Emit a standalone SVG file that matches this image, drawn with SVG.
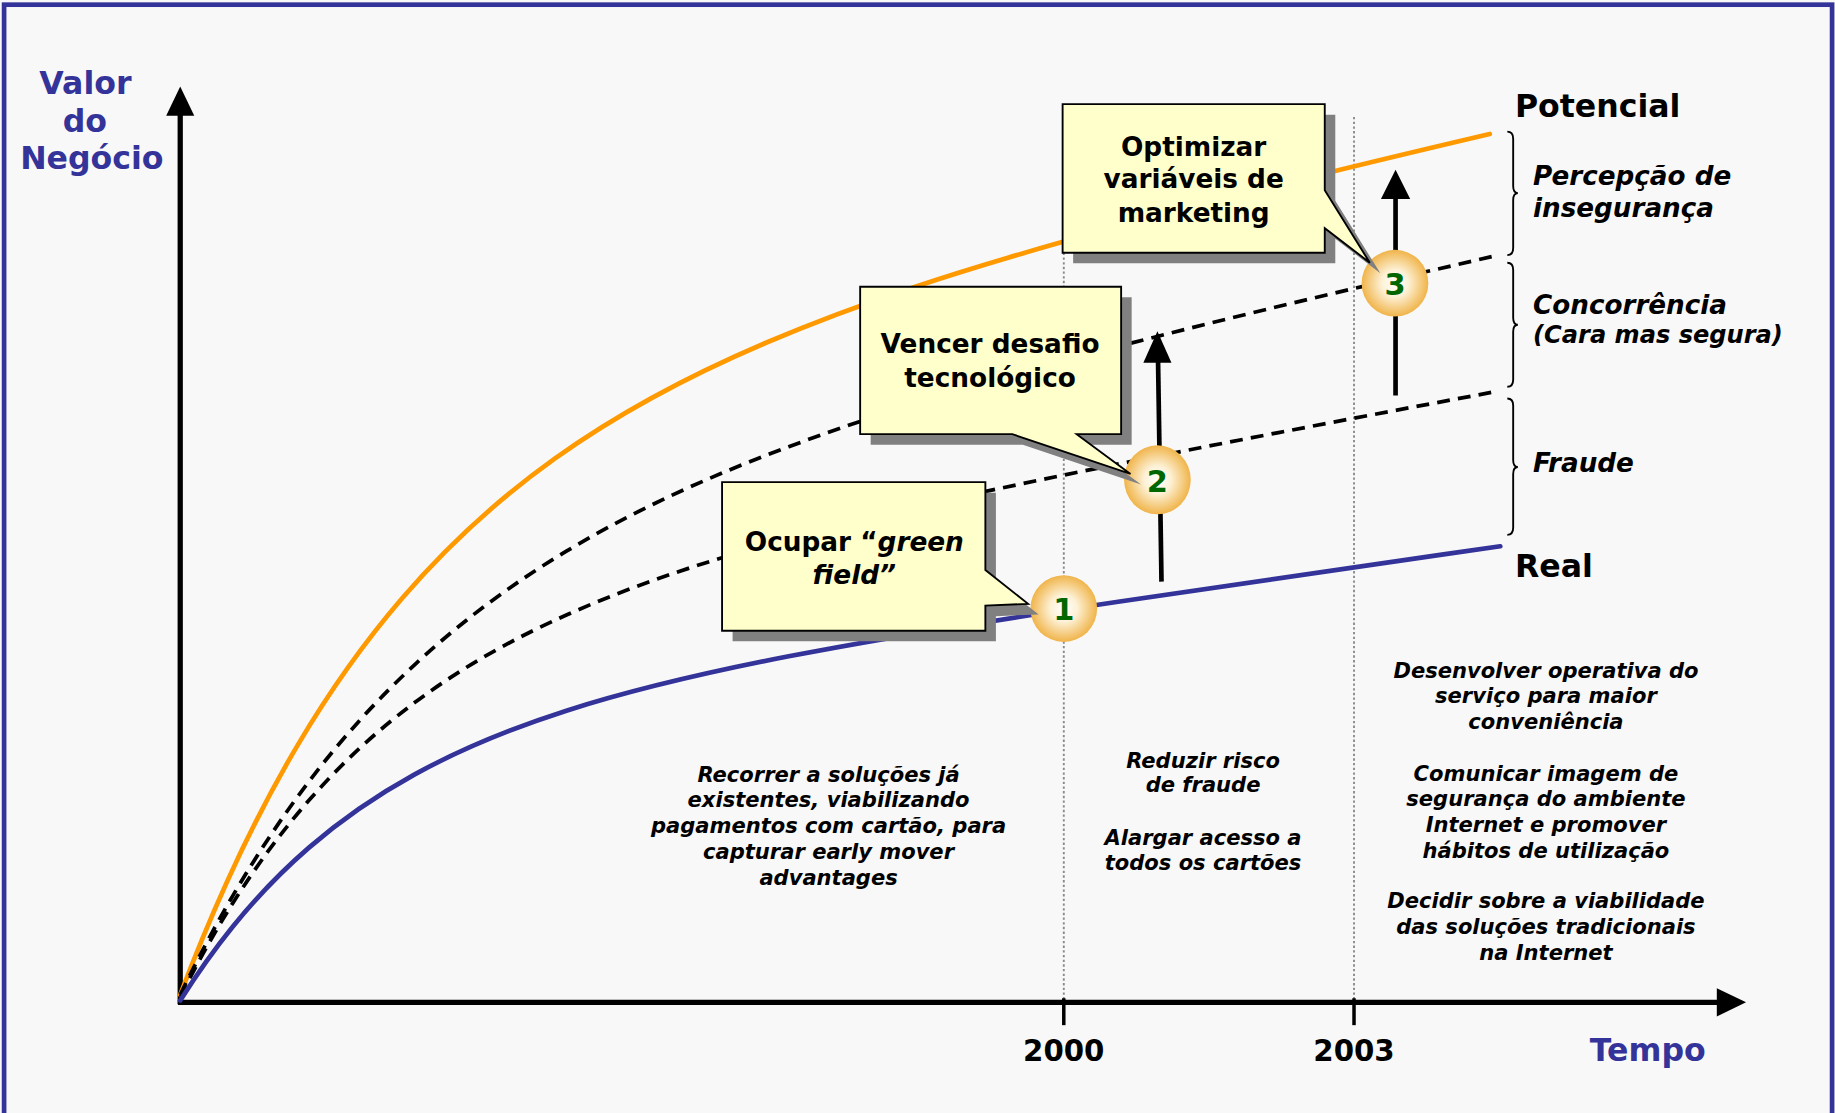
<svg xmlns="http://www.w3.org/2000/svg" xmlns:xlink="http://www.w3.org/1999/xlink" width="1835" height="1113" viewBox="0 0 1835 1113">
<style>
.t{font-family:"DejaVu Sans",Verdana,sans-serif;font-weight:bold;}
.blue{fill:#333399;}
.lbl{font-size:27px;}
.yr{font-size:25px;text-anchor:middle;}
.side{font-size:22.4px;font-style:italic;}
.note{font-size:18px;font-style:italic;text-anchor:middle;}
.co{font-size:22.5px;text-anchor:middle;}
.num{font-size:26px;fill:#006600;text-anchor:middle;}
.axis{stroke:#000;stroke-width:4.5;fill:none;}
.guide{stroke:#8a8a8a;stroke-width:1.6;stroke-dasharray:2 2;fill:none;}
.curve{fill:none;stroke-width:4;stroke-linejoin:round;stroke-linecap:round;}
.dash{fill:none;stroke:#000;stroke-width:3.2;stroke-dasharray:11 7;stroke-linejoin:round;}
.brace{fill:none;stroke:#000;stroke-width:1.6;}
.box{fill:#ffffcc;stroke:#000;stroke-width:1.6;}
.shadow{fill:#808080;}
.arr{stroke:#000;stroke-width:4;}
</style>
<defs>
<radialGradient id="ball" cx="50%" cy="50%" r="50%">
<stop offset="0%" stop-color="#ffffff"/>
<stop offset="40%" stop-color="#fdf1d6"/>
<stop offset="100%" stop-color="#f0b44a"/>
</radialGradient>
<path id="c1" d="M617,412 H842 V487 L878.5,516 L842,517.5 V539 H617 Z"/>
<path id="c2" d="M735,245 H958 V371 H920 L966,405 L865,371 H735 Z"/>
<path id="c3" d="M908,89 H1132 V162.5 L1170.5,224.5 L1132,195 V216 H908 Z"/>
</defs>
<rect x="0" y="0" width="1835" height="1113" fill="#f8f8f8"/>
<g transform="scale(1.170281)">
<rect x="3.5" y="4" width="1562" height="1000" fill="none" stroke="#333399" stroke-width="4"/>

<g id="guides">
<line class="guide" x1="909" y1="100" x2="909" y2="856"/>
<line class="guide" x1="1157" y1="100" x2="1157" y2="856"/>
</g>

<g id="axes">
<line class="axis" x1="154" y1="858" x2="154" y2="96"/>
<polygon points="154,74 142,99 166,99" fill="#000"/>
<line class="axis" x1="152" y1="856.5" x2="1470" y2="856.5"/>
<polygon points="1492,856.5 1467,844.5 1467,868.5" fill="#000"/>
<line x1="909" y1="853" x2="909" y2="876" stroke="#000" stroke-width="3"/>
<line x1="1157" y1="853" x2="1157" y2="876" stroke="#000" stroke-width="3"/>
<text class="t yr" x="909" y="907">2000</text>
<text class="t yr" x="1157" y="907">2003</text>
<text class="t lbl blue" x="1408" y="907" text-anchor="middle">Tempo</text>
<text class="t lbl blue" text-anchor="middle"><tspan x="73" y="80.5">Valor</tspan><tspan x="72.5" y="112.5">do</tspan><tspan x="78.5" y="144.5">Negócio</tspan></text>
</g>

<g id="curves">
<path class="curve" stroke="#ff9900" d="M154,850 C167.33,814.79 180.67,782.77 194,753.4 C214,709.34 234,671.12 254,637.3 C284,586.56 314,545.63 344,510.8 C387.33,460.5 430.67,422.89 474,391.9 C534,348.99 594,318.67 654,293.1 C739,256.88 824,230.47 909,206.4 C1030.33,172.04 1151.67,142.94 1273,114.5"/>
<path class="dash" d="M154,850 C169,819 184,790.94 199,765.3 C220.67,728.26 242.33,696.21 264,667.8 C294,628.46 324,596.18 354,568.3 C397.33,528.03 440.67,497.03 484,471 C547.33,432.95 610.67,405.35 674,381.7 C771,345.47 868,318.63 965,293.6 C1068.67,266.85 1172.33,242.71 1276,219"/>
<path class="dash" d="M154,852 C169,821.87 184,795.37 199,771.6 C220.67,737.27 242.33,708.6 264,683.9 C294,649.71 324,623.02 354,600.6 C397.33,568.21 440.67,544.86 484,525.5 C547.33,497.21 610.67,477.43 674,460.3 C769.33,434.51 864.67,414.75 960,395.6 C1065.33,374.44 1171.67,354.56 1277,334.8"/>
<path class="curve" stroke="#333399" d="M154,855 C169,831.06 184,810.23 199,791.7 C220.67,764.94 242.33,743.06 264,724.3 C294,698.33 324,678.42 354,661.9 C397.33,638.05 440.67,621.17 484,607.3 C547.33,587.02 610.67,573.1 674,560.8 C767.33,542.67 860.67,528.33 954,514.4 C1063.33,498.09 1172.67,482.54 1282,466.8"/>
</g>

<g id="braces">
<path class="brace" d="M1288,112.5 Q1293,112.5 1293,118.5 V159 Q1293,165 1297,165 Q1293,165 1293,171 V212 Q1293,218 1288,218"/>
<path class="brace" d="M1288,224.5 Q1293,224.5 1293,230.5 V271.5 Q1293,277.5 1297,277.5 Q1293,277.5 1293,283.5 V324.5 Q1293,330.5 1288,330.5"/>
<path class="brace" d="M1288,340.5 Q1293,340.5 1293,346.5 V393 Q1293,399 1297,399 Q1293,399 1293,405 V451 Q1293,457 1288,457"/>
</g>

<g id="right-labels">
<text class="t lbl" x="1294.5" y="100">Potencial</text>
<text class="t lbl" x="1294.5" y="493">Real</text>
<text class="t side" x="1310" y="158">Percepção de</text>
<text class="t side" x="1310" y="185">insegurança</text>
<text class="t side" x="1310" y="268.5">Concorrência</text>
<text class="t side" x="1310" y="293.5" style="font-size:20.6px">(Cara mas segura)</text>
<text class="t side" x="1310" y="403">Fraude</text>
</g>

<g id="arrows">
<line class="arr" x1="992.5" y1="497" x2="989.5" y2="305"/>
<polygon points="989,283 977,310 1001,310" fill="#000"/>
<line class="arr" x1="1192.5" y1="338" x2="1192.5" y2="165"/>
<polygon points="1192.5,145 1180,170 1205,170" fill="#000"/>
</g>

<g id="step1">
<circle cx="909" cy="520" r="28.5" fill="url(#ball)"/>
<text class="t num" x="909" y="530">1</text>
</g>
<g id="step2">
<ellipse cx="989" cy="410" rx="28.5" ry="29.5" fill="url(#ball)"/>
<text class="t num" x="989" y="420">2</text>
</g>
<g id="step3">
<circle cx="1192" cy="242" r="28.5" fill="url(#ball)"/>
<text class="t num" x="1192" y="252">3</text>
</g>

<g id="callout-ocupar">
<use xlink:href="#c1" class="shadow" transform="translate(9,9)"/>
<use xlink:href="#c1" class="box"/>
<text class="t co" x="730" y="471">Ocupar “<tspan font-style="italic">green</tspan></text>
<text class="t co" x="730" y="499" font-style="italic">field”</text>
</g>
<g id="callout-vencer">
<use xlink:href="#c2" class="shadow" transform="translate(9,9)"/>
<use xlink:href="#c2" class="box"/>
<text class="t co" x="846" y="302">Vencer desafio</text>
<text class="t co" x="846" y="331">tecnológico</text>
</g>
<g id="callout-optimizar">
<use xlink:href="#c3" class="shadow" transform="translate(9,9)"/>
<use xlink:href="#c3" class="box"/>
<text class="t co" x="1020" y="133">Optimizar</text>
<text class="t co" x="1020" y="161">variáveis de</text>
<text class="t co" x="1020" y="190">marketing</text>
</g>

<g id="notes">
<text class="t note"><tspan x="708" y="668">Recorrer a soluções já</tspan><tspan x="708" y="690">existentes, viabilizando</tspan><tspan x="708" y="712">pagamentos com cartão, para</tspan><tspan x="708" y="734">capturar early mover</tspan><tspan x="708" y="756">advantages</tspan></text>
<text class="t note"><tspan x="1028" y="656">Reduzir risco</tspan><tspan x="1028" y="677">de fraude</tspan><tspan x="1028" y="722">Alargar acesso a</tspan><tspan x="1028" y="743">todos os cartões</tspan></text>
<text class="t note"><tspan x="1321" y="579">Desenvolver operativa do</tspan><tspan x="1321" y="601">serviço para maior</tspan><tspan x="1321" y="623">conveniência</tspan><tspan x="1321" y="667">Comunicar imagem de</tspan><tspan x="1321" y="689">segurança do ambiente</tspan><tspan x="1321" y="711">Internet e promover</tspan><tspan x="1321" y="733">hábitos de utilização</tspan><tspan x="1321" y="776">Decidir sobre a viabilidade</tspan><tspan x="1321" y="798">das soluções tradicionais</tspan><tspan x="1321" y="820">na Internet</tspan></text>
</g>
</g>
</svg>
